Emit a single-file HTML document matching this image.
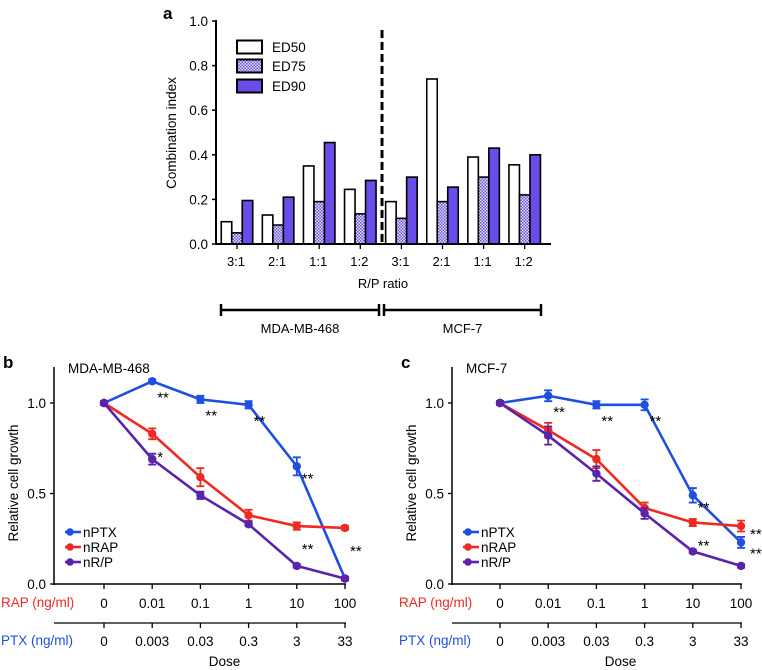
<!DOCTYPE html>
<html><head><meta charset="utf-8"><style>
html,body{margin:0;padding:0;background:#fff;}
svg{display:block;font-family:"Liberation Sans",Arial,sans-serif;}
</style></head><body>
<svg id="fig" width="762" height="670" viewBox="0 0 762 670" xmlns="http://www.w3.org/2000/svg">
<defs>
<pattern id="chk" width="3" height="3" patternUnits="userSpaceOnUse">
<rect width="3" height="3" fill="#e4defa"/><rect width="1.5" height="1.5" fill="#6a55dc"/><rect x="1.5" y="1.5" width="1.5" height="1.5" fill="#6a55dc"/>
</pattern>
</defs>
<g id="pa"></g>
<g id="pb"></g>
<g id="pc"></g>
</svg>
<script>
// Panel a data
const ratioLabels = ["3:1","2:1","1:1","1:2","3:1","2:1","1:1","1:2"];
const ed50 = [0.10,0.13,0.35,0.245,0.19,0.74,0.39,0.355];
const ed75 = [0.05,0.085,0.19,0.135,0.115,0.19,0.30,0.22];
const ed90 = [0.195,0.21,0.455,0.285,0.30,0.255,0.43,0.40];
const aTicks = [0,0.2,0.4,0.6,0.8,1.0];
// Panels b/c data
const rapDoses = ["0","0.01","0.1","1","10","100"];
const ptxDoses = ["0","0.003","0.03","0.3","3","33"];
const growthTicks = [0,0.5,1.0];
const bPTX = [1.0,1.12,1.02,0.99,0.65,0.03];
const bPTXerr = [0.01,0.01,0.02,0.02,0.05,0.01];
const bRAP = [1.0,0.83,0.59,0.38,0.32,0.31];
const bRAPerr = [0.01,0.03,0.05,0.03,0.02,0.01];
const bRP = [1.0,0.69,0.49,0.33,0.10,0.03];
const bRPerr = [0.01,0.03,0.02,0.01,0.01,0.01];
const cPTX = [1.0,1.04,0.99,0.99,0.49,0.23];
const cPTXerr = [0.01,0.03,0.02,0.03,0.04,0.03];
const cRAP = [1.0,0.85,0.69,0.42,0.34,0.32];
const cRAPerr = [0.01,0.04,0.05,0.03,0.02,0.03];
const cRP = [1.0,0.82,0.61,0.39,0.18,0.10];
const cRPerr = [0.01,0.05,0.04,0.03,0.01,0.01];
const bStars = [["PTX",1,"**"],["PTX",2,"**"],["PTX",3,"**"],["PTX",4,"**"],["RAP",1,"*"],["RAP",4,"**"],["RAP",5,"**"]];
const cStars = [["PTX",1,"**"],["PTX",2,"**"],["PTX",3,"**"],["PTX",4,"**"],["RAP",4,"**"],["RAP",5,"**"],["PTX",5,"**"]];

const NS="http://www.w3.org/2000/svg";
function mk(parent,tag,attrs,text){const e=document.createElementNS(NS,tag);for(const k in attrs)e.setAttribute(k,attrs[k]);if(text!==undefined)e.textContent=text;parent.appendChild(e);return e;}

// ---------- Panel A ----------
const pa=document.getElementById('pa');
const ay=v=>244-v*223;
const ax=i=>237+i*41.1;
let t=mk(pa,'text',{x:163,y:19,'font-size':17,'font-weight':'bold'},'a');

aTicks.forEach(v=>{
  let l=mk(pa,'line',{x1:212,x2:216,y1:ay(v),y2:ay(v),stroke:'#000','stroke-width':1.5});
  
  let s=mk(pa,'text',{x:208,y:ay(v)+5,'font-size':13.5,'text-anchor':'end'},v.toFixed(1));
  
});
t=mk(pa,'text',{x:0,y:0,'font-size':13.5,'text-anchor':'middle',transform:'translate(176,133) rotate(-90)'},'Combination index');

const bw=10.5;
const series=[[ed50,'#ffffff','ed50'],[ed75,'url(#chk)','ed75'],[ed90,'#6a4ce8','ed90']];
ratioLabels.forEach((lab,i)=>{
  series.forEach((s,j)=>{
    const v=s[0][i];const x=ax(i)+(j-1)*bw-bw/2;
    let r=mk(pa,'rect',{x:x,y:ay(v),width:bw,height:ay(0)-ay(v),fill:s[1],stroke:'#000','stroke-width':1.6});
    
  });
  let l=mk(pa,'line',{x1:ax(i),x2:ax(i),y1:244,y2:249,stroke:'#000','stroke-width':1.3});
  
  let s=mk(pa,'text',{x:ax(i)-1,y:266,'font-size':13,'text-anchor':'middle'},lab);
  
});
let ln=mk(pa,'line',{x1:216,x2:216,y1:20,y2:245,stroke:'#000','stroke-width':2});

ln=mk(pa,'line',{x1:215,x2:551,y1:244,y2:244,stroke:'#000','stroke-width':2});

ln=mk(pa,'line',{x1:382,x2:382,y1:30,y2:244,stroke:'#000','stroke-width':3,'stroke-dasharray':'8,4'});

t=mk(pa,'text',{x:383,y:288,'font-size':13,'text-anchor':'middle'},'R/P ratio');

[['ED50','#ffffff',47],['ED75','url(#chk)',66],['ED90','#6a4ce8',86]].forEach(e=>{
  let r=mk(pa,'rect',{x:237,y:e[2]-6.5,width:25,height:13,fill:e[1],stroke:'#000','stroke-width':2});
  
  let s=mk(pa,'text',{x:272,y:e[2]+5,'font-size':13.5},e[0]);
  
});
[[221,379,'MDA-MB-468'],[384,541,'MCF-7']].forEach(b=>{
  let g=mk(pa,'g',{});
  
  mk(g,'line',{x1:b[0],x2:b[1],y1:310,y2:310,stroke:'#000','stroke-width':2.5});
  mk(g,'line',{x1:b[0],x2:b[0],y1:304,y2:316,stroke:'#000','stroke-width':2.5});
  mk(g,'line',{x1:b[1],x2:b[1],y1:304,y2:316,stroke:'#000','stroke-width':2.5});
  let s=mk(pa,'text',{x:(b[0]+b[1])/2,y:333,'font-size':13,'text-anchor':'middle'},b[2]);
  
});

// ---------- Panels B, C ----------
const COL={PTX:'#1f4fe0',RAP:'#ee2a24',RP:'#5b22aa'};
function dosePanel(g,ox,x0,letter,title,PTX,PTXe,RAP,RAPe,RP,RPe,stars,isC){
  const yy=v=>584-v*181;
  const xx=i=>x0+i*48.2;
  const right=xx(5);
  let t=mk(g,'text',{x:ox+3,y:368,'font-size':17,'font-weight':'bold'},letter);
  
  t=mk(g,'text',{x:ox+68,y:373,'font-size':13.5},title);
  
  const axx=ox+54;
  let l=mk(g,'line',{x1:axx,x2:axx,y1:367,y2:585,stroke:'#000','stroke-width':1.5});
  
  l=mk(g,'line',{x1:axx,x2:right+1,y1:584,y2:584,stroke:'#000','stroke-width':1.5});
  
  growthTicks.forEach(v=>{
    let k=mk(g,'line',{x1:axx-4,x2:axx,y1:yy(v),y2:yy(v),stroke:'#000','stroke-width':1.3});
    
    let s=mk(g,'text',{x:axx-8,y:yy(v)+5,'font-size':13.5,'text-anchor':'end'},v.toFixed(1));
    
  });
  t=mk(g,'text',{x:0,y:0,'font-size':13.5,'text-anchor':'middle',transform:'translate('+(ox+18)+',483) rotate(-90)'},'Relative cell growth');
  
  t=mk(g,'text',{x:ox+1,y:607,'font-size':13.5,fill:COL.RAP},'RAP (ng/ml)');
  
  t=mk(g,'text',{x:ox+1,y:645,'font-size':13.5,fill:COL.PTX},'PTX (ng/ml)');
  
  l=mk(g,'line',{x1:axx,x2:right+1,y1:623,y2:623,stroke:'#000','stroke-width':1.3});
  
  rapDoses.forEach((d,i)=>{
    let k=mk(g,'line',{x1:xx(i),x2:xx(i),y1:584,y2:589,stroke:'#000','stroke-width':1.3});
    
    let s=mk(g,'text',{x:xx(i),y:608,'font-size':13.5,'text-anchor':'middle'},d);
    
    k=mk(g,'line',{x1:xx(i),x2:xx(i),y1:623,y2:628,stroke:'#000','stroke-width':1.3});
    
    s=mk(g,'text',{x:xx(i),y:646,'font-size':13.5,'text-anchor':'middle'},ptxDoses[i]);
    
  });
  t=mk(g,'text',{x:xx(2.5),y:666,'font-size':13.5,'text-anchor':'middle'},'Dose');
  
  [['PTX',PTX,PTXe],['RAP',RAP,RAPe],['RP',RP,RPe]].forEach(s=>{
    const c=COL[s[0]];
    let p=mk(g,'polyline',{points:s[1].map((v,i)=>xx(i)+','+yy(v)).join(' '),fill:'none',stroke:c,'stroke-width':2.6,'stroke-linejoin':'round'});
    
    s[1].forEach((v,i)=>{
      const e=s[2][i];
      let eb=mk(g,'path',{d:'M'+(xx(i)-4)+','+yy(v+e)+'h8M'+xx(i)+','+yy(v+e)+'V'+yy(v-e)+'M'+(xx(i)-4)+','+yy(v-e)+'h8',stroke:c,'stroke-width':1.8,fill:'none'});
      
      let m=mk(g,'circle',{cx:xx(i),cy:yy(v),r:4.2,fill:c});
      
    });
  });
  stars.forEach(st=>{
    const arr=st[0]==='PTX'?PTX:RAP;
    const v=arr[st[1]];
    let dx=5, dy = st[0]==='PTX'?21:28;
    if(st[0]==='PTX'&&st[1]===4) dy=17;
    if(isC&&st[1]===5){dx=9; dy= st[0]==='RAP'?13:16;}
    let s=mk(g,'text',{x:xx(st[1])+dx,y:yy(v)+dy,'font-size':15},st[2]);
    
  });
  [['PTX','nPTX',532],['RAP','nRAP',547],['RP','nR/P',562]].forEach(e=>{
    let lg=mk(g,'g',{});
    
    mk(lg,'line',{x1:ox+65,x2:ox+81,y1:e[2],y2:e[2],stroke:COL[e[0]],'stroke-width':2.6});
    mk(lg,'circle',{cx:ox+70,cy:e[2],r:3.8,fill:COL[e[0]]});
    mk(lg,'text',{x:ox+83,y:e[2]+5,'font-size':13.5},e[1]);
  });
}
dosePanel(document.getElementById('pb'),0,104,'b','MDA-MB-468',bPTX,bPTXerr,bRAP,bRAPerr,bRP,bRPerr,bStars,false);
dosePanel(document.getElementById('pc'),398,500,'c','MCF-7',cPTX,cPTXerr,cRAP,cRAPerr,cRP,cRPerr,cStars,true);
</script>
</body></html>
